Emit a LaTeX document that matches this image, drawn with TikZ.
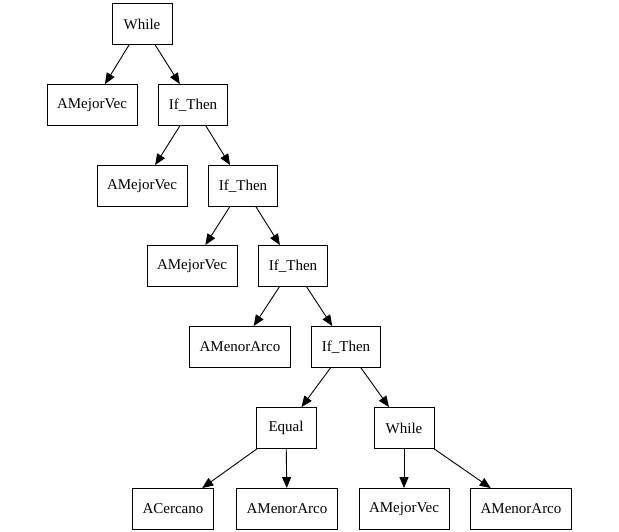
\documentclass[tikz,border=0pt]{standalone}
\usepackage{fontspec}
\setmainfont{Liberation Serif}
\usetikzlibrary{arrows.meta}

\begin{document}
\begin{tikzpicture}[x=1pt, y=-1pt,
		box/.style={draw, line width=0.9pt, minimum height=41pt, minimum width=60pt, inner xsep=10pt, font=\fontsize{15}{17}\selectfont},
		edge/.style={-{Triangle[length=11pt,width=9pt]}, line width=0.9pt}]
			\useasboundingbox (0,0) rectangle (619,532);
			% levels 81pt apart
			\node[box] (while1) at (142,24) {While};
			\node[box] (mejor1) at (92,105) {AMejorVec};
			\node[box] (if1) at (193,105) {If\_Then};
			\node[box] (mejor2) at (142,186) {AMejorVec};
			\node[box] (if2) at (243,186) {If\_Then};
			\node[box] (mejor3) at (192,266) {AMejorVec};
			\node[box] (if3) at (293,266) {If\_Then};
			\node[box] (menor1) at (240,347) {AMenorArco};
			\node[box] (if4) at (346,347) {If\_Then};
			\node[box] (equal) at (286,428) {Equal};
			\node[box] (while2) at (404,428) {While};
			\node[box] (cercano) at (173,509) {ACercano};
			\node[box] (menor2) at (287,509) {AMenorArco};
			\node[box] (mejor4) at (404,509) {AMejorVec};
			\node[box] (menor3) at (521,509) {AMenorArco};
			\foreach \a/\b in {while1/mejor1, while1/if1, if1/mejor2, if1/if2, if2/mejor3, if2/if3, if3/menor1, if3/if4, if4/equal, if4/while2, equal/cercano, equal/menor2, while2/mejor4, while2/menor3}{
				\draw[edge] (\a) -- (\b);
			}
		\end{tikzpicture}
\end{document}
